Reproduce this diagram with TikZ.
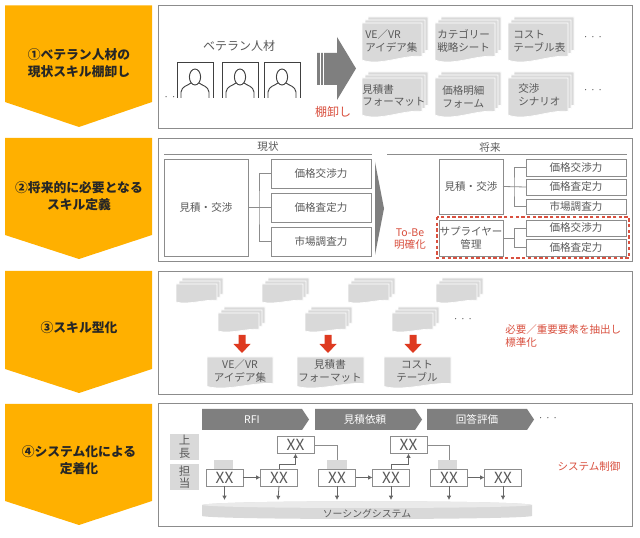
\documentclass[tikz,border=0pt]{standalone}
\usepackage{fontspec}
\setmainfont{Noto Sans CJK JP}
\usetikzlibrary{arrows.meta}
\definecolor{gold}{HTML}{FFB000}
\definecolor{docgray}{HTML}{D9D9D9}
\definecolor{txt}{HTML}{595959}
\definecolor{edge}{HTML}{8C8C8C}
\definecolor{redtxt}{HTML}{D9503F}
\definecolor{redar}{HTML}{DE3A20}
\definecolor{dark}{HTML}{7F7F7F}
\tikzset{
  lab/.style={text=txt,font=\fontsize{7.9}{9.6}\selectfont,align=center,inner sep=0pt},
  bigl/.style={lab,font=\fontsize{9}{11}\selectfont},
  redlab/.style={lab,text=redtxt},
  head/.style={text=black!85,font=\fontsize{9.6}{12.6}\selectfont\bfseries,align=center,inner sep=0pt},
  panel/.style={draw=black!45,fill=white,line width=.7pt},
  boxed/.style={draw=edge,fill=white,line width=.6pt,inner sep=0pt,outer sep=0pt,text=txt,align=center,font=\fontsize{7.9}{9.6}\selectfont},
  wire/.style={draw=edge,line width=.6pt},
  tipwire/.style={wire,-{Latex[length=3.2pt,width=3.4pt]},draw=black!60},
  dots/.style={text=txt,font=\fontsize{7}{9}\selectfont,inner sep=0pt},
  xx/.style={boxed,font=\fontsize{11.5}{12}\selectfont,minimum width=27.75pt,minimum height=12.75pt},
  rolebox/.style={lab,fill=docgray,font=\fontsize{8.6}{9.4}\selectfont,minimum width=21.75pt,minimum height=19.5pt}
}
\newcommand{\bx}[6]{\node[boxed,minimum width={(#4-#2)*.75pt},minimum height={(#5-#3)*.75pt}] (#1) at ({(#2+#4)/2},{(#3+#5)/2}) {#6};}
\newcommand{\sheet}[4]{\fill[docgray,draw=white,line width=.5pt] (#1,#2) -- ({#1+#3},#2) -- ({#1+#3},{#2+#4*.86}) .. controls ({#1+#3*.7},{#2+#4*.8}) and ({#1+#3*.3},{#2+#4*1.12}) .. (#1,{#2+#4*.95}) -- cycle;}
\newcommand{\pile}[4]{\sheet{#1+6}{#2-6}{#3}{#4}\sheet{#1+3}{#2-3}{#3}{#4}\sheet{#1}{#2}{#3}{#4}}
\newcommand{\person}[3]{% name, x1, x2
  \draw[draw=black!75,line width=.7pt] (#2,98) -- (#2,62) -- (#3,62) -- (#3,98);
  \draw[draw=black!75,line width=.7pt,fill=white] ({#2+4},98) -- ({#2+4},92) .. controls ({#2+5},86) and ({#2+10},86) .. ({#2+14},83) -- ({#2+22},83) .. controls ({#2+26},86) and ({#2+31},86) .. ({#2+32},92) -- ({#2+32},98);
  \draw[draw=black!75,line width=.7pt,fill=white] ({(#2+#3)/2},77) ellipse (5.6 and 8);
  \coordinate (#1) at ({(#2+#3)/2},80);
}
\begin{document}
\begin{tikzpicture}[x=.75pt,y=-.75pt]
\useasboundingbox[fill=white] (0,0) rectangle (640,538);
% left banners
\fill[gold] (5,5.5) -- (152,5.5) -- (152,102) -- (79,127) -- (5,102) -- cycle;
\node[head] (h1) at (79,63.5) {①ベテラン人材の\\現状スキル棚卸し};
\fill[gold] (5,138) -- (152,138) -- (152,235) -- (79,259) -- (5,235) -- cycle;
\node[head] (h2) at (79,196.5) {②将来的に必要となる\\スキル定義};
\fill[gold] (5,271) -- (152,271) -- (152,369) -- (79,393) -- (5,369) -- cycle;
\node[head] (h3) at (79,328) {③スキル型化};
\fill[gold] (5,404) -- (152,404) -- (152,501) -- (79,525) -- (5,501) -- cycle;
\node[head] (h4) at (79,460.5) {④システム化による\\定着化};
% panels
\draw[panel] (158,5) rectangle (632,128);
\draw[panel] (158,138) rectangle (632,261);
\draw[panel] (158,271) rectangle (632,394);
\draw[panel] (158,403) rectangle (632,526);
% panel 1
\node[bigl] (vet) at (239,46) {ベテラン人材};
\person{p1}{177}{213}
\person{p2}{222}{258}
\person{p3}{264}{300}
\node[dots] (d0) at (170,98) {· ·};
\fill[dark] (317,53) -- (337,53) -- (337,37) -- (356,68.5) -- (337,100) -- (337,85) -- (317,85) -- cycle;
\draw[white,line width=.6pt] (320,52) -- (320,86) (323.5,52) -- (323.5,86);
\node[bigl,text=redtxt] (tana) at (333,112) {棚卸し};
\pile{362}{23}{60}{39}\node[lab,anchor=west,align=left] (a1) at (365,41) {VE／VR\\アイデア集};
\pile{435}{23}{60}{39}\node[lab,anchor=west,align=left] (a2) at (437,41) {カテゴリー\\戦略シート};
\pile{508}{23}{60}{39}\node[lab,anchor=west,align=left] (a3) at (513,41) {コスト\\テーブル表};
\pile{362}{78}{60}{39}\node[lab,anchor=west,align=left] (a4) at (362,95.5) {見積書\\フォーマット};
\pile{435}{78}{60}{39}\node[lab,anchor=west,align=left] (a5) at (442,97) {価格明細\\フォーム};
\pile{508}{78}{60}{39}\node[lab,anchor=west,align=left] (a6) at (518,95) {交渉\\シナリオ};
\node[dots] (d1) at (593,38) {· · ·};
\node[dots] (d2) at (593,91) {· · ·};
% panel 2
\node[lab] (now) at (268,147) {現状};
\draw[edge,line width=.6pt] (164,154) -- (372,154);
\node[lab] (fut) at (490,147) {将来};
\draw[edge,line width=.6pt] (387,154) -- (627,154);
\bx{m0}{164}{159}{248}{256}{見積・交渉}
\bx{m1}{271}{159}{371}{188}{価格交渉力}
\bx{m2}{271}{193}{371}{222}{価格査定力}
\bx{m3}{271}{227}{371}{256}{市場調査力}
\draw[wire] (m0.east) -- (m2.west);
\draw[wire] (m1.west) -| (259,208) |- (m3.west);
\fill[dark] (375,162) -- (384,208.5) -- (375,255) -- cycle;
\node[redlab] (tobe) at (410,239) {To-Be\\明確化};
\bx{f0}{439}{159}{503}{214}{見積・交渉}
\bx{f1}{526}{159}{626}{176}{価格交渉力}
\bx{f2}{526}{179}{626}{195}{価格査定力}
\bx{f3}{526}{199}{626}{214}{市場調査力}
\draw[wire] (f0.east) -- (f2.west);
\draw[wire] (f1.west) -| (514,187) |- (f3.west);
\bx{g0}{439}{220}{503}{256}{サプライヤー\\管理}
\bx{g1}{526}{220}{626}{236}{価格交渉力}
\bx{g2}{526}{239}{626}{256}{価格査定力}
\draw[wire] (g0.east) -- (514,238);
\draw[wire] (g1.west) -| (514,247.5) -- (g2.west);
\draw[draw=redtxt,line width=.8pt,dash pattern=on 2.5pt off 1.8pt] (437,217) rectangle (629,258);
% panel 3
\pile{176}{284}{41}{19}\pile{262}{284}{41}{19}\pile{348}{284}{41}{19}\pile{436}{284}{41}{19}
\pile{218}{313}{41}{19}\pile{305}{313}{41}{19}\pile{392}{313}{41}{19}
\node[dots] (d3) at (463,320) {· · ·};
\foreach \cx in {242,328,413}{
  \fill[redar] ({\cx-3.5},335) -- ({\cx+3.5},335) -- ({\cx+3.5},344) -- ({\cx+8.5},344) -- (\cx,353) -- ({\cx-8.5},344) -- ({\cx-3.5},344) -- cycle;
}
\sheet{207}{357}{66}{31}\node[lab] (t1) at (240,371) {VE／VR\\アイデア集};
\sheet{297}{357}{67}{31}\node[lab] (t2) at (330,371) {見積書\\フォーマット};
\sheet{384}{357}{67}{31}\node[lab] (t3) at (417,371) {コスト\\テーブル};
\node[redlab,anchor=west,align=left] (std) at (505,336) {必要／重要要素を抽出し\\標準化};
% panel 4
\foreach \xa/\n/\tx in {202/c1/RFI,315/c2/見積依頼,427/c3/回答評価}{
  \fill[dark] (\xa,409) -- ({\xa+100},409) -- ({\xa+107},419.5) -- ({\xa+100},430) -- (\xa,430) -- cycle;
  \node[lab,text=white] (\n) at ({\xa+50},419.5) {\tx};
}
\node[dots] (d4) at (548,419) {· · ·};
\node[rolebox] (up) at (184.5,447) {上\\長};
\node[rolebox] (tan) at (184.5,477) {担\\当};
\fill[docgray] (214,460) rectangle (233,469);
\fill[docgray] (327,460) rectangle (347,469);
\fill[docgray] (438,460) rectangle (457,469);
% system bar
\fill[docgray] (202,505) .. controls (215,500) and (519,500) .. (532,505) -- (532,516) .. controls (519,520) and (215,520) .. (202,516) -- cycle;
\fill[docgray!55] (202,505) .. controls (215,500) and (519,500) .. (532,505) .. controls (519,509) and (215,509) .. (202,505) -- cycle;
\node[lab,font=\fontsize{7.4}{9}\selectfont] (sys) at (367,514) {ソーシングシステム};
\node[xx] (x1) at (224.5,477.5) {XX};
\node[xx] (x2) at (279,477.5) {XX};
\node[xx] (x3) at (337,477.5) {XX};
\node[xx] (x4) at (391,477.5) {XX};
\node[xx] (x5) at (449,477.5) {XX};
\node[xx] (x6) at (503,477.5) {XX};
\node[xx] (u1) at (295.5,445) {XX};
\node[xx] (u2) at (408.5,445) {XX};
\draw[tipwire] (x1) -- (x2);
\draw[tipwire] (x3) -- (x4);
\draw[tipwire] (x5) -- (x6);
\draw[tipwire] (x2.north) -- ++(0,-5) -| (u1.south);
\draw[tipwire] (x4.north) -- ++(0,-5) -| (u2.south);
\draw[wire] (u1.east) -| (337,460);
\draw[wire] (u2.east) -| (449,460);
\coordinate (b1) at (224.5,500);\coordinate (b2) at (278,500);\coordinate (b3) at (337,500);
\coordinate (b4) at (391,500);\coordinate (b5) at (449,500);\coordinate (b6) at (503,500);
\draw[tipwire] (x1.south) -- (b1);
\draw[tipwire] (x2.south) -- (b2);
\draw[tipwire] (x3.south) -- (b3);
\draw[tipwire] (x4.south) -- (b4);
\draw[tipwire] (x5.south) -- (b5);
\draw[tipwire] (x6.south) -- (b6);
\node[redlab] (ctl) at (589,466) {システム制御};
\end{tikzpicture}
\end{document}
